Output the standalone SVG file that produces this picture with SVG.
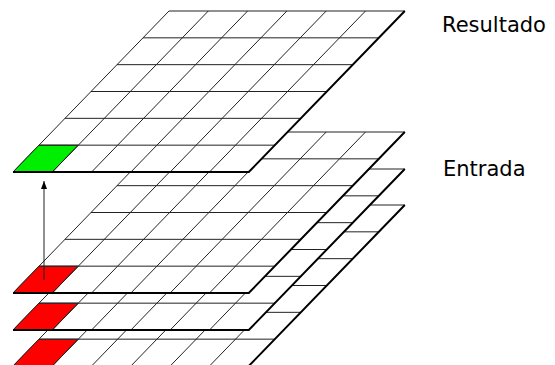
<svg xmlns="http://www.w3.org/2000/svg" xmlns:xlink="http://www.w3.org/1999/xlink" width="555" height="365" viewBox="0 0 555 365">
  <style>
    .plate { fill: #ffffff; stroke: #222222; stroke-width: 1; }
    .grid { fill: none; stroke: #222222; stroke-width: 1; }
    .edge { fill: none; stroke: #000000; stroke-width: 2; stroke-linejoin: miter; }
    .red { fill: #ff0000; stroke: #222222; stroke-width: 1; }
    .green { fill: #00ee00; stroke: #222222; stroke-width: 1; }
    .label { font-family: "DejaVu Sans", "Liberation Sans", sans-serif; font-size: 21px; fill: #000000; }
    .conn { stroke: #222222; stroke-width: 1; fill: none; }
  </style>
  <defs>
    <path id="plate" d="M13,0 L248.8,0 L404.8,-161 L169,-161 Z"/>
    <path id="lines" d="M52.3,0 L208.3,-161 M91.6,0 L247.6,-161 M130.9,0 L286.9,-161 M170.2,0 L326.2,-161 M209.5,0 L365.5,-161 M39,-26.83 L274.8,-26.83 M65,-53.67 L300.8,-53.67 M91,-80.5 L326.8,-80.5 M117,-107.33 L352.8,-107.33 M143,-134.17 L378.8,-134.17"/>
    <path id="edge" d="M13,0 L248.8,0 L404.8,-161"/>
    <path id="cell" d="M13,0 L52.3,0 L78.3,-26.83 L39,-26.83 Z"/>
    <marker id="arrowhead" viewBox="0 0 8 8" refX="8" refY="4" markerWidth="8" markerHeight="8" markerUnits="userSpaceOnUse" orient="auto">
      <path d="M0,1 L8,4 L0,7 Z" fill="#000000"/>
    </marker>
  </defs>

  <g id="input-layer-3" transform="translate(0,366)">
    <use xlink:href="#plate" class="plate"/>
    <use xlink:href="#cell" class="red"/>
    <use xlink:href="#lines" class="grid"/>
    <use xlink:href="#edge" class="edge"/>
  </g>

  <g id="input-layer-2" transform="translate(0,330)">
    <use xlink:href="#plate" class="plate"/>
    <use xlink:href="#cell" class="red"/>
    <use xlink:href="#lines" class="grid"/>
    <use xlink:href="#edge" class="edge"/>
  </g>

  <g id="input-layer-1" transform="translate(0,293)">
    <use xlink:href="#plate" class="plate"/>
    <use xlink:href="#cell" class="red"/>
    <use xlink:href="#lines" class="grid"/>
    <use xlink:href="#edge" class="edge"/>
  </g>

  <g id="result-layer" transform="translate(0,172)">
    <use xlink:href="#plate" class="plate"/>
    <use xlink:href="#cell" class="green"/>
    <use xlink:href="#lines" class="grid"/>
    <use xlink:href="#edge" class="edge"/>
  </g>

  <g id="connectors">
    <line class="conn" x1="44" y1="280" x2="44" y2="181" marker-end="url(#arrowhead)"/>
  </g>

  <g id="labels">
    <text class="label" x="442" y="32">Resultado</text>
    <text class="label" x="443" y="176">Entrada</text>
  </g>
</svg>
